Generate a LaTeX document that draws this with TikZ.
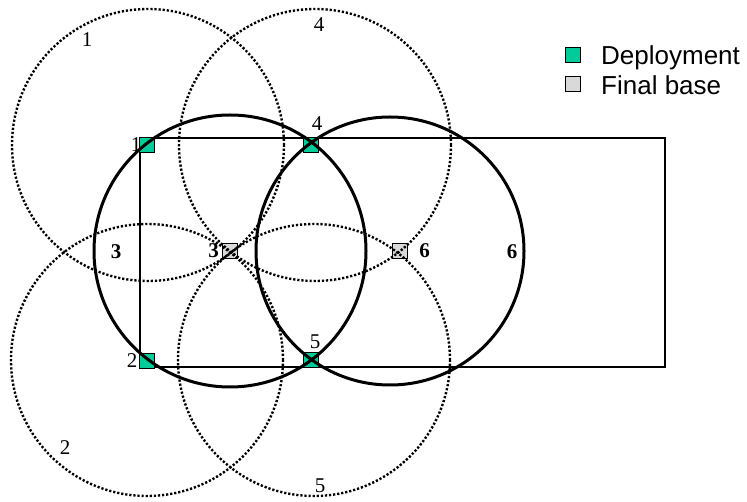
\documentclass[tikz,border=0pt]{standalone}
\usepackage{fontspec}
\setmainfont{Liberation Serif}
\newfontfamily\legendfont{Liberation Sans}
\usetikzlibrary{positioning}
\definecolor{deploycolor}{RGB}{0, 204, 153}
\definecolor{basecolor}{RGB}{217, 217, 217}

\begin{document}
\begin{tikzpicture}[
    x=1pt, y=-1pt,
    sq/.style={rectangle, draw, line width=1.1pt, minimum size=15pt, inner sep=0pt},
    deploy/.style={sq, fill=deploycolor},
    base/.style={sq, fill=basecolor, path picture={
        \foreach \p in {(-3pt,-3pt),(2pt,-2pt),(-1pt,1pt),(3pt,3pt),(-3pt,4pt)}
            \fill ([shift={\p}]path picture bounding box.center) circle (0.8pt);}},
    rangecirc/.style={line width=2.4pt, dash pattern=on 2.2pt off 1.9pt},
    covercirc/.style={line width=3pt},
    num/.style={font=\fontsize{21}{23}\selectfont, inner sep=0pt},
    bnum/.style={num, font=\fontsize{21}{23}\selectfont\bfseries},
    lgd/.style={font=\legendfont\fontsize{26}{28}\selectfont, inner sep=0pt, anchor=base west}
]
\useasboundingbox (0,0) rectangle (747,502);

% Field
\draw[line width=1.3pt] (140,138) rectangle (665,367);

% Deployment points and final bases
\node[deploy] (d1) at (147,145) {};
\node[deploy] (d4) at (311,145) {};
\node[deploy] (d2) at (147,361) {};
\node[deploy] (d5) at (311,360) {};
\node[base] (b3) at (230,251) {};
\node[base] (b6) at (400,251) {};

% Sensing ranges at deployment
\coordinate (r1) at (148,145);
\coordinate (r4) at (315,145);
\coordinate (r2) at (147,360);
\coordinate (r5) at (314,360);
\foreach \c in {r1,r4,r2,r5}
    \draw[rangecirc] (\c) circle (136pt);

% Ranges at final bases
\coordinate (c3) at (230,251);
\coordinate (c6) at (390,251);
\draw[covercirc] (c3) circle (136pt);
\draw[covercirc] (c6) circle (134pt);

% Labels
\node[num, left=-2.5pt of d1] {1};
\node[num, above=6pt of d4, xshift=6pt] {4};
\node[num, left=1.5pt of d2] {2};
\node[num, above=3.5pt of d5, xshift=4pt] {5};
\node[num] at (87,40) {1};
\node[num] at (319,25) {4};
\node[num] at (65,448) {2};
\node[num] at (320,486) {5};
\node[bnum] at (116,252) {3};
\node[bnum, left=3pt of b3] {3};
\node[bnum, right=11pt of b6] {6};
\node[bnum] at (512,252) {6};

% Legend
\node[deploy] (lg1) at (573,55) {};
\node[base, path picture={}] (lg2) at (573,84) {};
\node[lgd] at (601,65) {Deployment};
\node[lgd] at (601,95) {Final base};

\end{tikzpicture}
\end{document}
